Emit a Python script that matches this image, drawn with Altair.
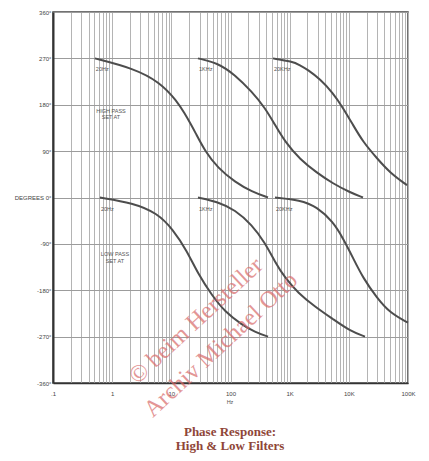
import altair as alt
import pandas as pd

# ---- data (frequency in Hz, phase in degrees) ----
hp20_f = [0.51, 2.25, 6.4, 12.5, 17, 20.7, 25, 37, 61.5, 119, 231, 430]
hp20_d = [270, 251, 224, 187, 162, 145, 128, 90, 57, 30, 11, 0]

hp1k_f = [28.2, 61.5, 119, 231, 383, 565, 834, 1493, 2897, 5395, 10450, 17340]
hp1k_d = [270, 261, 238, 205, 174, 141, 108, 74, 48, 27, 10, 0]

hp20k_f = [522, 1094, 1493, 2042, 3251, 5395, 7962, 11750, 17340, 29920, 49550, 96160]
hp20k_d = [270, 264, 257, 247.5, 230, 203, 174, 141, 108, 76, 48, 24]

lp20_f = [0.62, 2.25, 5.73, 10.7, 18.4, 28.2, 48.6, 80.7, 156, 259, 431]
lp20_d = [0, -10.5, -30, -62, -104, -148, -190, -222, -247, -261, -270]

lp1k_f = [28.2, 61.5, 119, 231, 383, 565, 834, 1384, 2680, 5395, 10450, 18750]
lp1k_d = [0, -8.5, -24, -53, -88, -125, -156, -185, -212, -236, -259, -270]

lp20k_f = [565, 1493, 2897, 5395, 7962, 11750, 17340, 29920, 49550, 100000]
lp20k_d = [0, -4.7, -18, -47, -79, -117, -156, -195, -224, -243]

series_names = ["HP 20Hz", "HP 1KHz", "HP 20KHz", "LP 20Hz", "LP 1KHz", "LP 20KHz"]
series_labels = ["20Hz", "1KHz", "20KHz", "20Hz", "1KHz", "20KHz"]
series_f = [hp20_f, hp1k_f, hp20k_f, lp20_f, lp1k_f, lp20k_f]
series_d = [hp20_d, hp1k_d, hp20k_d, lp20_d, lp1k_d, lp20k_d]

y_ticks = [-360, -270, -180, -90, 0, 90, 180, 270, 360]
x_grid = [m * 10 ** k for k in range(-1, 5) for m in range(1, 10)] + [100000]

rows = []
for name, fs, ds in zip(series_names, series_f, series_d):
    for f, d in zip(fs, ds):
        rows.append({"series": name, "f": f, "deg": d})
df = pd.DataFrame(rows)

lab_df = pd.DataFrame({
    "series": series_names,
    "label": series_labels,
    "f": [fs[0] for fs in series_f],
    "deg": [ds[0] for ds in series_d],
})

W, H = 355, 371
FONT = "Liberation Sans"

x_scale = alt.Scale(type="log", domain=[0.1, 100000])
y_scale = alt.Scale(domain=[-360, 360])

x_label_expr = (
    "abs(log(datum.value)/LN10 - round(log(datum.value)/LN10)) < 0.001 ? "
    "(datum.value < 1 ? '.1' : (datum.value >= 1000 ? format(datum.value/1000, 'd') + 'K' "
    ": format(datum.value, 'd'))) : ''"
)
y_label_expr = "datum.value == 0 ? 'DEGREES 0°' : datum.value + '°'"

x_axis = alt.Axis(
    values=x_grid, labelExpr=x_label_expr, title="", grid=True,
    gridColor="#b4b4b4", gridWidth=1, ticks=False, domain=True,
    domainColor="#333333", domainWidth=1.5, labelFontSize=6, labelFont=FONT,
    labelColor="#444444", labelPadding=7, labelOverlap=False, labelFlush=False,
)
y_axis = alt.Axis(
    values=y_ticks, labelExpr=y_label_expr, title="", grid=True,
    gridColor="#9c9c9c", gridWidth=1, ticks=False, domain=True,
    domainColor="#333333", domainWidth=2, labelFontSize=6, labelFont=FONT,
    labelColor="#444444", labelPadding=2, labelOverlap=False, labelFlush=False,
)

lines = alt.Chart(df).mark_line(
    interpolate="basis", color="#4d4d4d", strokeWidth=2
).encode(
    x=alt.X("f:Q", scale=x_scale, axis=x_axis),
    y=alt.Y("deg:Q", scale=y_scale, axis=y_axis),
    detail="series:N",
)

labels = alt.Chart(lab_df).mark_text(
    align="left", baseline="middle", dx=1, dy=11, fontSize=5.5, font=FONT, color="#555555"
).encode(
    x=alt.X("f:Q", scale=x_scale),
    y=alt.Y("deg:Q", scale=y_scale),
    text="label:N",
)


def pix_text(text, x, y, **kw):
    d = pd.DataFrame({"t": [text]})
    return alt.Chart(d).mark_text(**kw).encode(
        x=alt.value(x), y=alt.value(y), text="t:N"
    )


small = dict(fontSize=5.5, font=FONT, color="#555555", align="center", baseline="middle")
hp_txt1 = pix_text("HIGH PASS", 58, 99, **small)
hp_txt2 = pix_text("SET AT", 58, 105, **small)
lp_txt1 = pix_text("LOW PASS", 62, 242, **small)
lp_txt2 = pix_text("SET AT", 62, 249, **small)
hz_txt = pix_text("Hz", 177, 390, **small)

title_kw = dict(font="Liberation Serif", fontWeight="bold", fontSize=13,
                color="#8f4638", align="center", baseline="middle")
title1 = pix_text("Phase Response:", 177, 420, **title_kw)
title2 = pix_text("High & Low Filters", 177, 434, **title_kw)

wm_kw = dict(font="Liberation Serif", fontSize=24, color="#d86a6a", opacity=0.7,
             angle=317, align="center", baseline="middle")
wm1 = pix_text("© beim Hersteller", 143, 309, **wm_kw)
wm2 = pix_text("Archiv Michael Otto", 168, 333, **wm_kw)

chart = alt.layer(
    lines, labels, hp_txt1, hp_txt2, lp_txt1, lp_txt2, hz_txt, title1, title2, wm1, wm2
).properties(
    width=W, height=H,
    autosize=alt.AutoSizeParams(type="none"),
    padding={"left": 45, "top": 4, "right": 13, "bottom": 70},
    background="white",
).configure_view(stroke="#444444", strokeWidth=1.5)

chart.save("out.html", embed_options={"renderer": "svg", "actions": False})
